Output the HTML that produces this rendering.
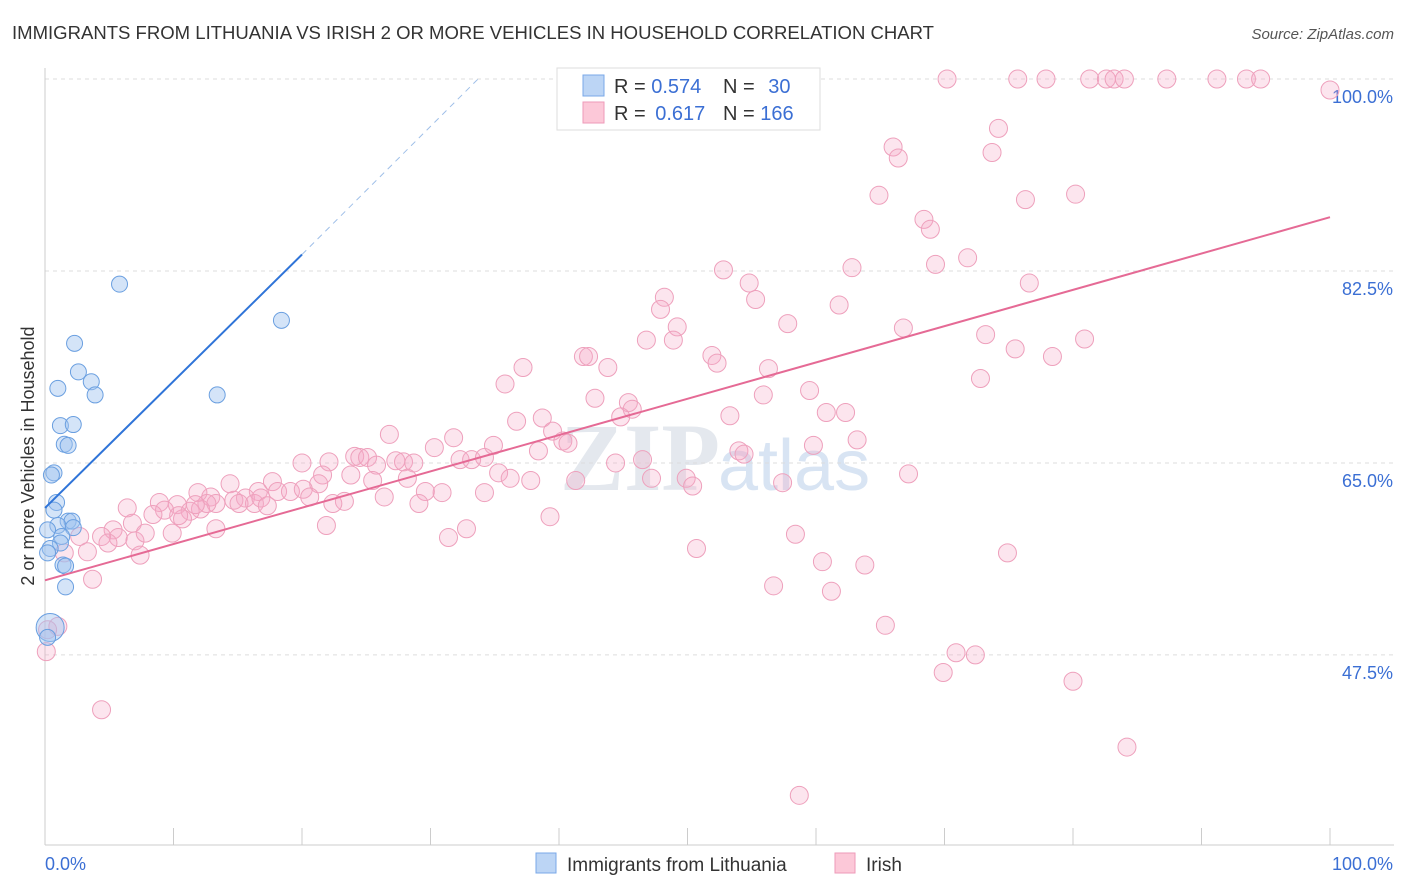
<!DOCTYPE html>
<html><head><meta charset="utf-8"><style>
body{margin:0;background:#fff;font-family:"Liberation Sans",sans-serif;}
svg{display:block}
</style></head><body>
<svg id="chart" width="1406" height="892">
<text x="12" y="39" font-size="18.5" fill="#333" textLength="922" lengthAdjust="spacingAndGlyphs">IMMIGRANTS FROM LITHUANIA VS IRISH 2 OR MORE VEHICLES IN HOUSEHOLD CORRELATION CHART</text>
<text x="1394" y="39" font-size="15" fill="#555" font-style="italic" text-anchor="end">Source: ZipAtlas.com</text>
<text x="720" y="490" font-size="96" fill="#e4e8ee" text-anchor="end" font-family="Liberation Serif,serif" font-weight="bold">ZIP</text>
<text x="718" y="490" font-size="72" fill="#d8e4f3">atlas</text>
<g id="grid"></g>
<g id="axes"></g>
<g id="pts"></g>
<g id="lines"></g>
<text transform="translate(34,456) rotate(-90)" font-size="18" fill="#333" text-anchor="middle">2 or more Vehicles in Household</text>
<g>
<rect x="557" y="68" width="263" height="62" fill="#fff" stroke="#ddd"/>
<rect x="583" y="75" width="21" height="21" fill="#bcd5f5" stroke="#7aa8e8"/>
<rect x="583" y="102" width="21" height="21" fill="#fcc8d8" stroke="#ee9ab8"/>
<text x="614" y="93" font-size="20" fill="#333">R = <tspan fill="#3b6fd4">0.574</tspan></text>
<text x="723" y="93" font-size="20" fill="#333">N = <tspan fill="#3b6fd4" dx="8">30</tspan></text>
<text x="614" y="120" font-size="20" fill="#333">R = <tspan fill="#3b6fd4" dx="4">0.617</tspan></text>
<text x="723" y="120" font-size="20" fill="#333">N = <tspan fill="#3b6fd4">166</tspan></text>
</g>
<g>
<rect x="536" y="853" width="20" height="20" fill="#bcd5f5" stroke="#7aa8e8"/>
<text x="567" y="871" font-size="19" fill="#333">Immigrants from Lithuania</text>
<rect x="835" y="853" width="20" height="20" fill="#fcc8d8" stroke="#ee9ab8"/>
<text x="866" y="871" font-size="19" fill="#333">Irish</text>
</g>
</svg>
<script>
const yTicks=[100,82.5,65,47.5];
const yTickLabels=["100.0%","82.5%","65.0%","47.5%"];
const xTicks=[0,10,20,30,40,50,60,70,80,90,100];
const blueX=[5.8,18.4,2.3,2.6,1.0,3.6,3.9,13.4,1.2,2.2,1.5,1.8,0.7,0.5,0.9,0.7,1.8,2.1,1.0,2.2,0.2,1.3,1.2,0.4,0.2,1.4,1.6,1.6,0.4,0.2];
const blueY=[81.3,78.0,75.9,73.3,71.8,72.4,71.2,71.2,68.4,68.5,66.7,66.6,64.1,63.9,61.4,60.7,59.7,59.7,59.3,59.1,58.9,58.3,57.7,57.2,56.8,55.7,55.6,53.7,50.0,49.1];
const pinkX=[70.2,75.7,77.9,81.3,82.6,83.2,84.0,87.3,91.2,93.5,94.6,100,
74.2,66.0,66.4,73.7,64.9,76.3,80.2,68.4,68.9,71.8,69.3,62.8,52.8,54.8,76.6,48.2,55.3,61.8,47.9,57.8,49.2,66.8,73.2,46.8,48.9,80.9,75.5,78.4,51.9,41.9,42.3,52.3,37.2,43.8,56.3,72.8,35.8,59.5,42.8,55.9,45.4,45.7,60.8,62.3,53.3,36.7,44.8,38.7,39.5,26.8,63.2,40.3,31.8,40.7,34.9,30.3,59.8,54.0,54.4,38.4,46.5,22.1,24.1,24.5,25.1,32.3,33.2,34.2,27.3,25.8,27.9,28.7,20.0,21.6,23.8,25.5,28.2,35.3,36.2,37.8,41.3,44.4,47.2,49.9,67.2,17.7,57.4,50.4,21.3,16.6,18.1,19.1,20.1,14.4,15.6,16.3,16.8,20.6,14.7,12.9,15.1,11.9,17.3,13.3,12.1,12.6,10.3,11.3,8.9,9.3,8.4,6.4,10.7,10.4,11.7,30.9,29.6,26.4,23.3,22.4,29.1,21.9,34.2,39.3,32.8,31.4,13.3,6.8,5.3,5.7,4.4,7.0,7.8,9.9,4.9,2.7,1.5,3.3,7.4,3.7,0.1,1.0,0.2,4.4,50.7,58.4,60.5,63.8,56.7,61.2,74.9,65.4,70.9,72.4,69.9,80.0,84.2,58.7];
const pinkY=[100,100,100,100,100,100,100,100,100,100,100,99.0,
95.5,93.8,92.8,93.3,89.4,89.0,89.5,87.2,86.3,83.7,83.1,82.8,82.6,81.4,81.4,80.1,79.9,79.4,79.0,77.7,77.4,77.3,76.7,76.2,76.2,76.3,75.4,74.7,74.8,74.7,74.7,74.1,73.7,73.7,73.6,72.7,72.2,71.6,70.9,71.2,70.5,69.9,69.6,69.6,69.3,68.8,69.2,69.1,67.9,67.6,67.1,67.0,67.3,66.8,66.6,66.4,66.6,66.1,65.8,66.1,65.3,65.1,65.6,65.5,65.5,65.3,65.3,65.5,65.2,64.8,65.1,65.0,65.0,63.9,63.9,63.4,63.6,64.1,63.6,63.4,63.4,65.0,63.6,63.6,64.0,63.3,63.2,62.9,63.1,62.4,62.4,62.4,62.6,63.1,61.8,61.3,61.8,61.9,61.6,61.9,61.3,62.3,61.1,61.3,60.8,61.3,61.2,60.6,61.4,60.7,60.3,60.9,59.9,60.2,61.2,62.3,62.4,61.9,61.5,61.3,61.3,59.3,62.3,60.1,59.0,58.2,59.0,59.5,58.9,58.2,58.3,57.9,58.6,58.6,57.7,58.3,56.8,56.9,56.6,54.4,47.8,50.1,49.8,42.5,57.2,58.5,56.0,55.7,53.8,53.3,56.8,50.2,47.7,47.5,45.9,45.1,39.1,34.7];
const blueFit=[0,60.9,20,84.0,33.7,100];
const pinkFit=[0,54.3,100,87.4];
const NS="http://www.w3.org/2000/svg";
const X=v=>45+v*12.85, Y=v=>79+(100-v)*10.97;
function mk(tag,attrs,parent){const e=document.createElementNS(NS,tag);for(const k in attrs)e.setAttribute(k,attrs[k]);document.getElementById(parent).appendChild(e);return e;}
yTicks.forEach((t,i)=>{
 const l=mk('line',{x1:45,x2:1394,y1:Y(t),y2:Y(t),stroke:'#ddd','stroke-dasharray':'4,4'},'grid');
 
 
 const tx=mk('text',{x:1393,y:Y(t)+24,'font-size':18,fill:'#3b6fd4','text-anchor':'end'},'grid');
 tx.textContent=yTickLabels[i];
 
 
});
const ax=mk('line',{x1:45,x2:1394,y1:845,y2:845,stroke:'#ccc'},'axes');


const ay=mk('line',{x1:45,x2:45,y1:68,y2:845,stroke:'#ccc'},'axes');


xTicks.forEach(t=>{
 const l=mk('line',{x1:X(t),x2:X(t),y1:828,y2:845,stroke:'#ccc'},'axes');
 
 
});
const xl0=mk('text',{x:45,y:870,'font-size':18,fill:'#3b6fd4'},'axes');xl0.textContent='0.0%';


const xl1=mk('text',{x:1393,y:870,'font-size':18,fill:'#3b6fd4','text-anchor':'end'},'axes');xl1.textContent='100.0%';


pinkX.forEach((v,i)=>{
 const c=mk('circle',{cx:X(v),cy:Y(pinkY[i]),r:9,fill:'rgba(246,170,198,0.3)',stroke:'#eea0bc','stroke-width':1},'pts');
 
 
});
blueX.forEach((v,i)=>{
 const c=mk('circle',{cx:X(v),cy:Y(blueY[i]),r:i==28?14:8,fill:'rgba(160,195,240,0.45)',stroke:'#6a9fe0','stroke-width':1},'pts');
 
 
});
const bl=mk('line',{x1:X(blueFit[0]),y1:Y(blueFit[1]),x2:X(blueFit[2]),y2:Y(blueFit[3]),stroke:'#2f74d8','stroke-width':2},'lines');


const bd=mk('line',{x1:X(blueFit[2]),y1:Y(blueFit[3]),x2:X(blueFit[4]),y2:Y(blueFit[5]),stroke:'#9fbfe8','stroke-width':1,'stroke-dasharray':'6,5'},'lines');


const pl=mk('line',{x1:X(pinkFit[0]),y1:Y(pinkFit[1]),x2:X(pinkFit[2]),y2:Y(pinkFit[3]),stroke:'#e56a95','stroke-width':2},'lines');


</script>
</body></html>
